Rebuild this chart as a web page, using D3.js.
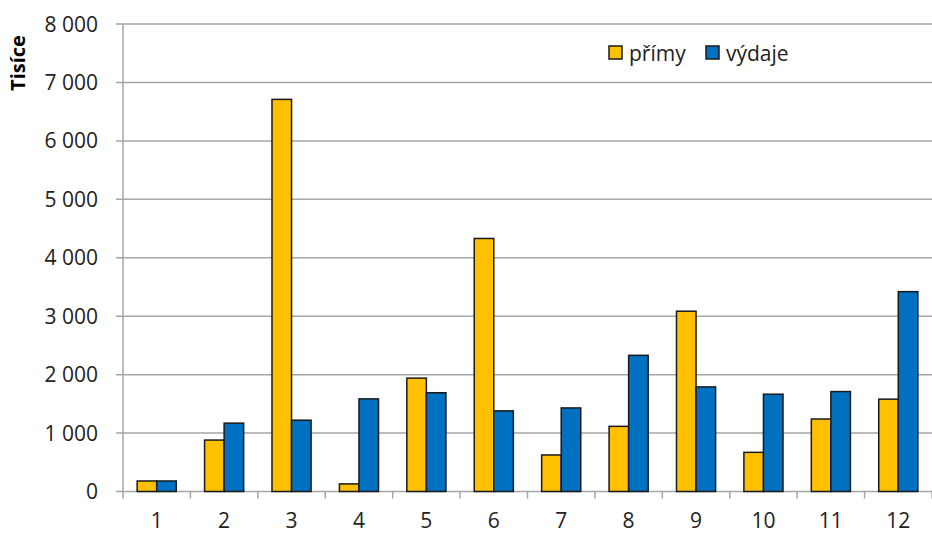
<!DOCTYPE html>
<html>
<head>
<meta charset="utf-8">
<script src="https://cdn.jsdelivr.net/npm/d3@7"></script>
<style>
  body { margin: 0; background: #fff; }
  text { font-family: "Open Sans", "Noto Sans", sans-serif; fill: #222; }
</style>
</head>
<body>
<div id="chart"></div>
<script>
var width = 932, height = 534;
var margin = {top: 24, right: 0, bottom: 42.5, left: 123};

var months = ["1","2","3","4","5","6","7","8","9","10","11","12"];
var primy  = [180, 880, 6710, 130, 1940, 4330, 625, 1115, 3085, 670, 1240, 1580];
var vydaje = [180, 1170, 1220, 1585, 1690, 1380, 1430, 2330, 1790, 1665, 1710, 3420];
var seriesNames = ["přímy", "výdaje"];
var seriesColors = ["#FFC000", "#0070C0"];
var yTicks = [0, 1000, 2000, 3000, 4000, 5000, 6000, 7000, 8000];

var svg = d3.select("#chart").append("svg")
    .attr("width", width)
    .attr("height", height);

var w = width - margin.left - margin.right;
var h = height - margin.top - margin.bottom;

var g = svg.append("g")
    .attr("transform", "translate(" + margin.left + "," + margin.top + ")");

var x = d3.scaleBand().domain(months).range([0, w]).padding(0);
var y = d3.scaleLinear().domain([0, 8000]).range([h, 0]);
var barW = x.bandwidth() * 0.29;

function fmt(v) { return d3.format(",")(v).replace(/,/g, " "); }

// gridlines
g.selectAll(".grid")
  .data(yTicks).enter()
  .append("line")
  .attr("x1", -7).attr("x2", w)
  .attr("y1", function(d){ return y(d); })
  .attr("y2", function(d){ return y(d); })
  .attr("stroke", "#a6a6a6")
  .attr("stroke-width", 1.5);

// y axis line
g.append("line")
  .attr("x1", 0).attr("x2", 0).attr("y1", 0).attr("y2", h)
  .attr("stroke", "#a6a6a6").attr("stroke-width", 1.5);

g.selectAll(".ylab")
  .data(yTicks).enter()
  .append("text")
  .attr("x", -25)
  .attr("y", function(d){ return y(d); })
  .attr("dy", "0.36em")
  .attr("text-anchor", "end")
  .style("font-size", "21px")
  .text(fmt);

// x ticks between categories
var xTickPos = d3.range(0, months.length + 1).map(function(i){ return i * x.step(); });
g.selectAll(".xtick")
  .data(xTickPos).enter()
  .append("line")
  .attr("x1", function(d){ return d; }).attr("x2", function(d){ return d; })
  .attr("y1", h).attr("y2", h + 7)
  .attr("stroke", "#a6a6a6").attr("stroke-width", 1.5);

g.selectAll(".xlab")
  .data(months).enter()
  .append("text")
  .attr("x", function(d){ return x(d) + x.bandwidth() / 2; })
  .attr("y", 528 - margin.top)
  .attr("text-anchor", "middle")
  .style("font-size", "21px")
  .text(function(d){ return d; });

// bars
[primy, vydaje].forEach(function(vals, s) {
  g.selectAll(".bar" + s)
    .data(vals).enter()
    .append("rect")
    .attr("x", function(d, i){ return x(months[i]) + x.bandwidth() / 2 - barW + s * barW; })
    .attr("y", function(d){ return y(d); })
    .attr("width", barW)
    .attr("height", function(d){ return h - y(d); })
    .attr("fill", seriesColors[s])
    .attr("stroke", "#1a1a1a")
    .attr("stroke-width", 1.5);
});

// y title
svg.append("text")
  .attr("transform", "translate(25,63) rotate(-90)")
  .attr("text-anchor", "middle")
  .style("font-size", "20px")
  .style("font-weight", "bold")
  .style("fill", "#000")
  .text("Tisíce");

// legend
var legend = svg.append("g").attr("transform", "translate(609,46)");
var legX = [0, 97];
seriesNames.forEach(function(name, i) {
  legend.append("rect")
    .attr("x", legX[i]).attr("y", 0)
    .attr("width", 13).attr("height", 13)
    .attr("fill", seriesColors[i])
    .attr("stroke", "#1a1a1a").attr("stroke-width", 1.5);
  legend.append("text")
    .attr("x", legX[i] + 20).attr("y", 7)
    .attr("dy", "0.36em")
    .style("font-size", "21px")
    .text(name);
});
</script>
</body>
</html>
